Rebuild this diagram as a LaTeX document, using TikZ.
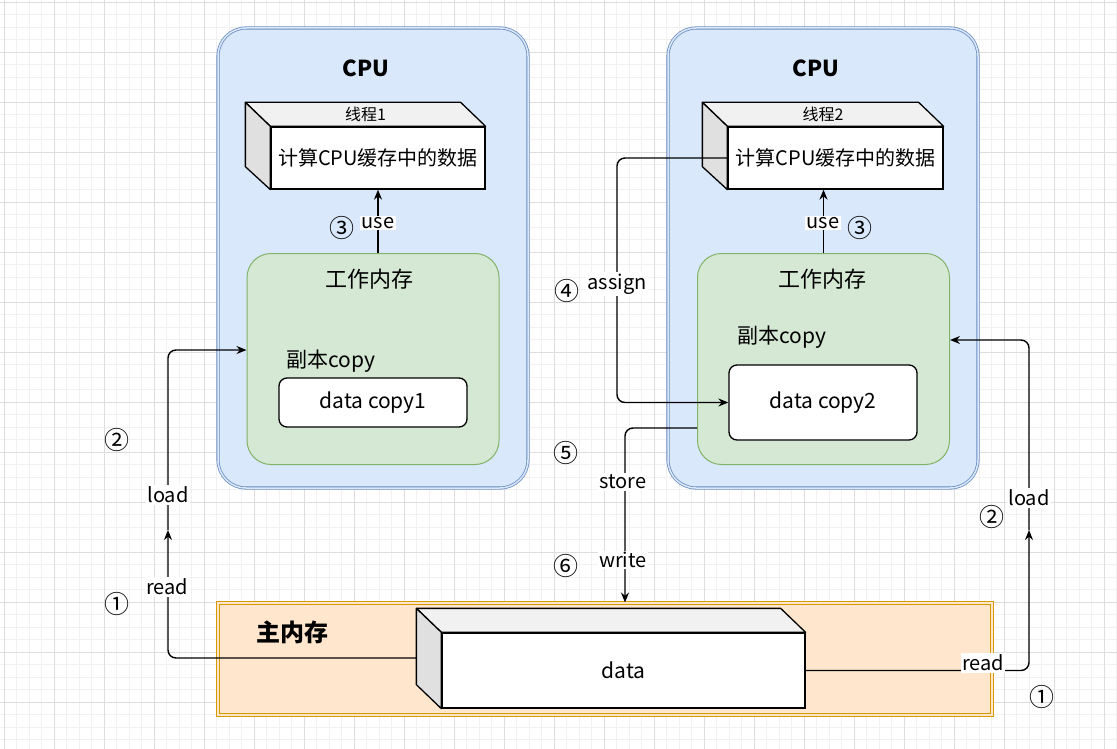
\documentclass[tikz,border=0pt]{standalone}
\usepackage{fontspec}
\setmainfont{Noto Sans CJK SC}
\usetikzlibrary{arrows.meta}
\definecolor{cpufill}{HTML}{DAE8FC}
\definecolor{cpuline}{HTML}{6C8EBF}
\definecolor{wmfill}{HTML}{D5E8D4}
\definecolor{wmline}{HTML}{82B366}
\definecolor{mmfill}{HTML}{FFE6CC}
\definecolor{mmline}{HTML}{D79B00}
\definecolor{topc}{HTML}{F1F1F1}
\definecolor{leftc}{HTML}{E0E0E0}
\definecolor{gminor}{HTML}{F1F1F1}
\definecolor{gmajor}{HTML}{DDDDDD}
\begin{document}
\begin{tikzpicture}[x=1pt,y=-1pt,
  fs/.style={font=\fontsize{#1}{#1}\selectfont},
  cpubox/.style={rectangle, rounded corners=28pt, draw=cpuline, line width=0.8pt, double=cpufill, double distance=1.5pt, fill=cpufill, minimum width=310pt, minimum height=460pt, inner sep=0pt},
  wmbox/.style={rectangle, rounded corners=24pt, draw=wmline, line width=1pt, fill=wmfill, minimum width=252pt, minimum height=211pt, inner sep=0pt},
  copybox/.style={rectangle, rounded corners=8pt, draw=black, line width=1.3pt, fill=white, minimum width=188pt, inner sep=0pt, fs=21},
  front/.style={rectangle, draw=black, line width=1.3pt, fill=white, inner sep=0pt},
  topface/.style={draw=black, line width=1.3pt, fill=topc, line join=round},
  leftface/.style={draw=black, line width=1.3pt, fill=leftc, line join=round},
  arr/.style={draw=black, line width=1.4pt, -{Stealth[length=10pt,width=8pt]}, rounded corners=8pt},
  lbl/.style={fill=white, inner sep=1.5pt, fs=20},
  num/.style={inner sep=0pt, fs=25},
  txt/.style={inner sep=0pt, fs=20}
]
\useasboundingbox (0,0) rectangle (1117,749);
\fill[white] (0,0) rectangle (1117,749);
% grid
\foreach \i in {0,...,90} {\draw[gminor, line width=0.6pt] ({-8.5+12.5*\i},0) -- ({-8.5+12.5*\i},749);}
\foreach \j in {0,...,61} {\draw[gminor, line width=0.6pt] (0,{-10.5+12.5*\j}) -- (1117,{-10.5+12.5*\j});}
\foreach \i in {0,...,22} {\draw[gmajor, line width=0.8pt] ({4+50*\i},0) -- ({4+50*\i},749);}
\foreach \j in {0,...,14} {\draw[gmajor, line width=0.8pt] (0,{2+50*\j}) -- (1117,{2+50*\j});}

% CPU boxes
\node[cpubox] (cpu1) at (373,258) {};
\node[cpubox] (cpu2) at (823,258) {};
\node[font=\fontsize{22}{22}\selectfont\bfseries] (cpu1l) at (366,68) {CPU};
\node[font=\fontsize{22}{22}\selectfont\bfseries] (cpu2l) at (816,68) {CPU};

% thread cubes
\node[front, minimum width=214pt, minimum height=62pt, fs=20] (t1) at (378,158) {计算CPU缓存中的数据};
\filldraw[topface] (t1.north west) -- ++(-25,-24) -- ([shift={(-25,-24)}]t1.north east) -- (t1.north east) -- cycle;
\filldraw[leftface] (t1.north west) -- ++(-25,-24) -- ([shift={(-25,-23)}]t1.south west) -- (t1.south west) -- cycle;
\node[txt, fs=16] (t1l) at ([shift={(-12.5,-12)}]t1.north) {线程1};

\node[front, minimum width=215pt, minimum height=62pt, fs=20] (t2) at (835.5,158) {计算CPU缓存中的数据};
\filldraw[topface] (t2.north west) -- ++(-25,-24) -- ([shift={(-25,-24)}]t2.north east) -- (t2.north east) -- cycle;
\filldraw[leftface] (t2.north west) -- ++(-25,-24) -- ([shift={(-25,-23)}]t2.south west) -- (t2.south west) -- cycle;
\node[txt, fs=16] (t2l) at ([shift={(-12.5,-12)}]t2.north) {线程2};

% working memory
\node[wmbox] (g1) at (373,359) {};
\node[wmbox] (g2) at (823.5,359) {};
\node[txt, fs=22] (g1t) at (369,279) {工作内存};
\node[txt, fs=22] (g2t) at (822,279) {工作内存};
\node[txt, fs=21] (c1t) at (331,361) {副本copy};
\node[txt, fs=21] (c2t) at (782,337) {副本copy};
\node[copybox, minimum height=49pt] (dc1) at (373,402.5) {data copy1};
\node[copybox, minimum height=75pt] (dc2) at (823,402.5) {data copy2};

% main memory
\node[rectangle, draw=mmline, line width=1pt, double=mmfill, double distance=1.4pt, fill=mmfill, minimum width=774pt, minimum height=112pt, inner sep=0pt] (mm) at (605,659) {};
\node[font=\fontsize{24}{24}\selectfont\bfseries, inner sep=0pt] (mml) at (292,632) {主内存};
\node[front, minimum width=363pt, minimum height=75pt, fs=21] (d) at (623.5,670.5) {data};
\filldraw[topface] (d.north west) -- ++(-25,-24) -- ([shift={(-25,-24)}]d.north east) -- (d.north east) -- cycle;
\filldraw[leftface] (d.north west) -- ++(-25,-24) -- ([shift={(-25,-24)}]d.south west) -- (d.south west) -- cycle;

% use arrows
\draw[arr] (g1.north -| t1.south) -- (t1.south);
\draw[arr] (g2.north) -- (g2.north |- t2.south);
\node[lbl] (use1) at (378,223) {use};
\node[lbl] (use2) at (823,223) {use};
\node[num] (n3a) at (342,228) {③};
\node[num] (n3b) at (860,228) {③};

% assign
\coordinate (a1) at (617,158);
\coordinate (a2) at (617,402.5);
\draw[arr] (t2.west) -- (a1) -- (a2) -- (dc2.west);
\node[lbl] (asg) at (617,284) {assign};
\node[num] (n4) at (567,291) {④};

% store / write
\coordinate (s1) at (625,428);
\draw[arr] ([yshift=-69pt]g2.west) -- (s1) -- (s1 |- mm.north);
\node[lbl] (sto) at (623,482) {store};
\node[lbl] (wri) at (623,560) {write};
\node[num] (n5) at (566,453) {⑤};
\node[num] (n6) at (566,566) {⑥};

% left read / load
\coordinate (l1) at (168,658);
\coordinate (l2) at (168,530);
\coordinate (l3) at (168,350);
\draw[arr] ([shift={(-25,-12.5)}]d.west) -- (l1) -- (l2);
\draw[arr] (l2) -- (l3) -- (l3 -| g1.west);
\node[lbl] (rd1) at (167,587) {read};
\node[lbl] (ld1) at (168,495) {load};
\node[num] (n1a) at (117,604) {①};
\node[num] (n2a) at (117,440) {②};

% right read / load
\coordinate (r1) at (1029,670.5);
\coordinate (r2) at (1029,530);
\coordinate (r3) at (1029,340);
\draw[arr] (d.east) -- (r1) -- (r2);
\draw[arr] (r2) -- (r3) -- (r3 -| g2.east);
\node[lbl] (rd2) at (983,663) {read};
\node[lbl] (ld2) at (1029,498) {load};
\node[num] (n2b) at (992,517) {②};
\node[num] (n1b) at (1042,697) {①};
\end{tikzpicture}
\end{document}
